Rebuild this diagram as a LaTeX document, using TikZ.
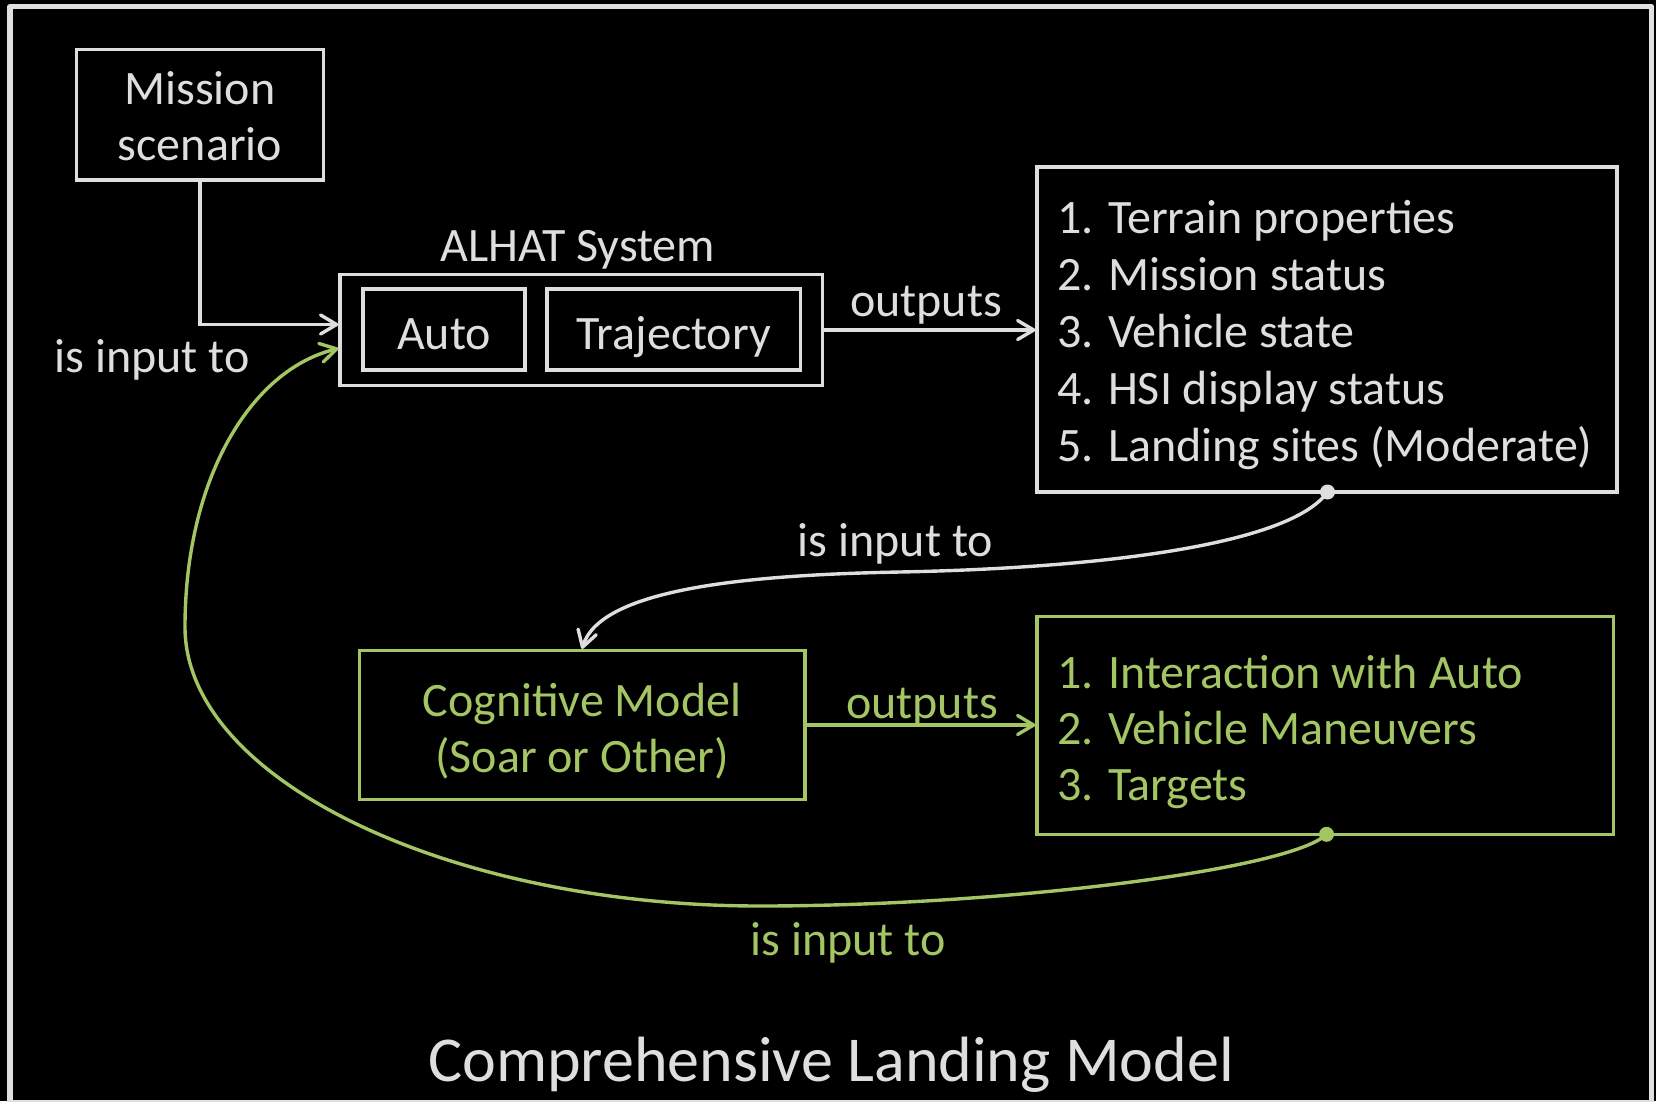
\documentclass[tikz,border=0pt]{standalone}
\usepackage{fontspec}
\setmainfont{Carlito}
\usetikzlibrary{arrows.meta}
\definecolor{fg}{RGB}{222,222,222}
\definecolor{frm}{RGB}{224,224,224}
\definecolor{grn}{RGB}{164,197,100}
\begin{document}
\begin{tikzpicture}[x=1pt,y=-1pt,
  box/.style={draw, line width=3.3pt, inner sep=0pt},
  txt/.style={inner sep=0pt, anchor=base, font=\fontsize{48}{56}\selectfont},
  ltxt/.style={txt, anchor=base west},
  conn/.style={line width=3.4pt, line cap=round, -{Straight Barb[length=16pt,width=19pt,round]}},
  dotnode/.style={circle, fill, inner sep=0pt, minimum size=15pt}]
\useasboundingbox (0,0) rectangle (1656,1101);
\fill[black] (0,0) rectangle (1656,1101);
\draw[frm, line width=5.5pt, line join=round] (10,6.7) rectangle (1651.5,1103);

% boxes
\node[box, fg, minimum width=246.6pt, minimum height=130.7pt] (mission) at (200,114.7) {};
\node[box, fg, minimum width=482.7pt, minimum height=111pt] (alhat) at (581.3,330) {};
\node[box, fg, minimum width=162pt, minimum height=81pt] (auto) at (444,329.5) {};
\node[box, fg, minimum width=253.5pt, minimum height=81pt] (traj) at (673.7,329.5) {};
\node[box, fg, minimum width=580pt, minimum height=325pt] (list1) at (1327,329.5) {};
\node[box, grn, minimum width=445.7pt, minimum height=149pt] (cog) at (582,725) {};
\node[box, grn, minimum width=576.7pt, minimum height=217.5pt] (list2) at (1325.3,725.5) {};

% texts
\node[txt, fg] (mis1) at (200,104) {Mission};
\node[txt, fg] (mis2) at (200,160) {scenario};
\node[txt, fg] (alhatlbl) at (577.7,261) {ALHAT System};
\node[txt, fg] (autotxt) at (444,349) {Auto};
\node[txt, fg] (trajtxt) at (673.7,349) {Trajectory};
\node[txt, fg] (out1) at (926,316) {outputs};
\node[txt, fg] (in1) at (152,372) {is input to};
\node[txt, fg] (in2) at (895.5,556) {is input to};
\node[txt, grn] (cog1) at (582,716) {Cognitive Model};
\node[txt, grn] (cog2) at (582,772) {(Soar or Other)};
\node[txt, grn] (out2) at (922,718) {outputs};
\node[txt, grn] (in3) at (848,955) {is input to};
\node[txt, fg, font=\fontsize{64}{70}\selectfont] (title) at (831,1081.7) {Comprehensive Landing Model};

\node[ltxt, fg] (t1) at (1057,233) {1. Terrain properties};
\node[ltxt, fg] (t2) at (1057,290) {2. Mission status};
\node[ltxt, fg] (t3) at (1057,347) {3. Vehicle state};
\node[ltxt, fg] (t4) at (1057,404) {4. HSI display status};
\node[ltxt, fg] (t5) at (1057,461) {5. Landing sites (Moderate)};
\node[ltxt, grn] (g1) at (1057,688) {1. Interaction with Auto};
\node[ltxt, grn] (g2) at (1057,744) {2. Vehicle Maneuvers};
\node[ltxt, grn] (g3) at (1057,800) {3. Targets};

% dots
\node[dotnode, fg] (d1) at (1327.5,492) {};
\node[dotnode, grn] (d2) at (1326.5,834.3) {};

% connectors
\draw[conn, fg] (mission.south) |- ([yshift=5.5pt]alhat.west);
\draw[conn, fg] (alhat.east) -- (list1.west |- alhat.east);
\draw[conn, grn] (cog.east) -- (list2.west |- cog.east);
\draw[conn, fg] (d1.center) .. controls (1290,545) and (1100,568) .. (900,572)
   .. controls (740,575) and (600,590) .. (cog.north);
\draw[conn, grn] (d2.center) .. controls (1290,870) and (1000,906) .. (760,906)
   .. controls (450,906) and (185,780) .. (185,627)
   .. controls (185,480) and (250,370) .. ([yshift=-18.5pt]alhat.west);
\end{tikzpicture}
\end{document}
